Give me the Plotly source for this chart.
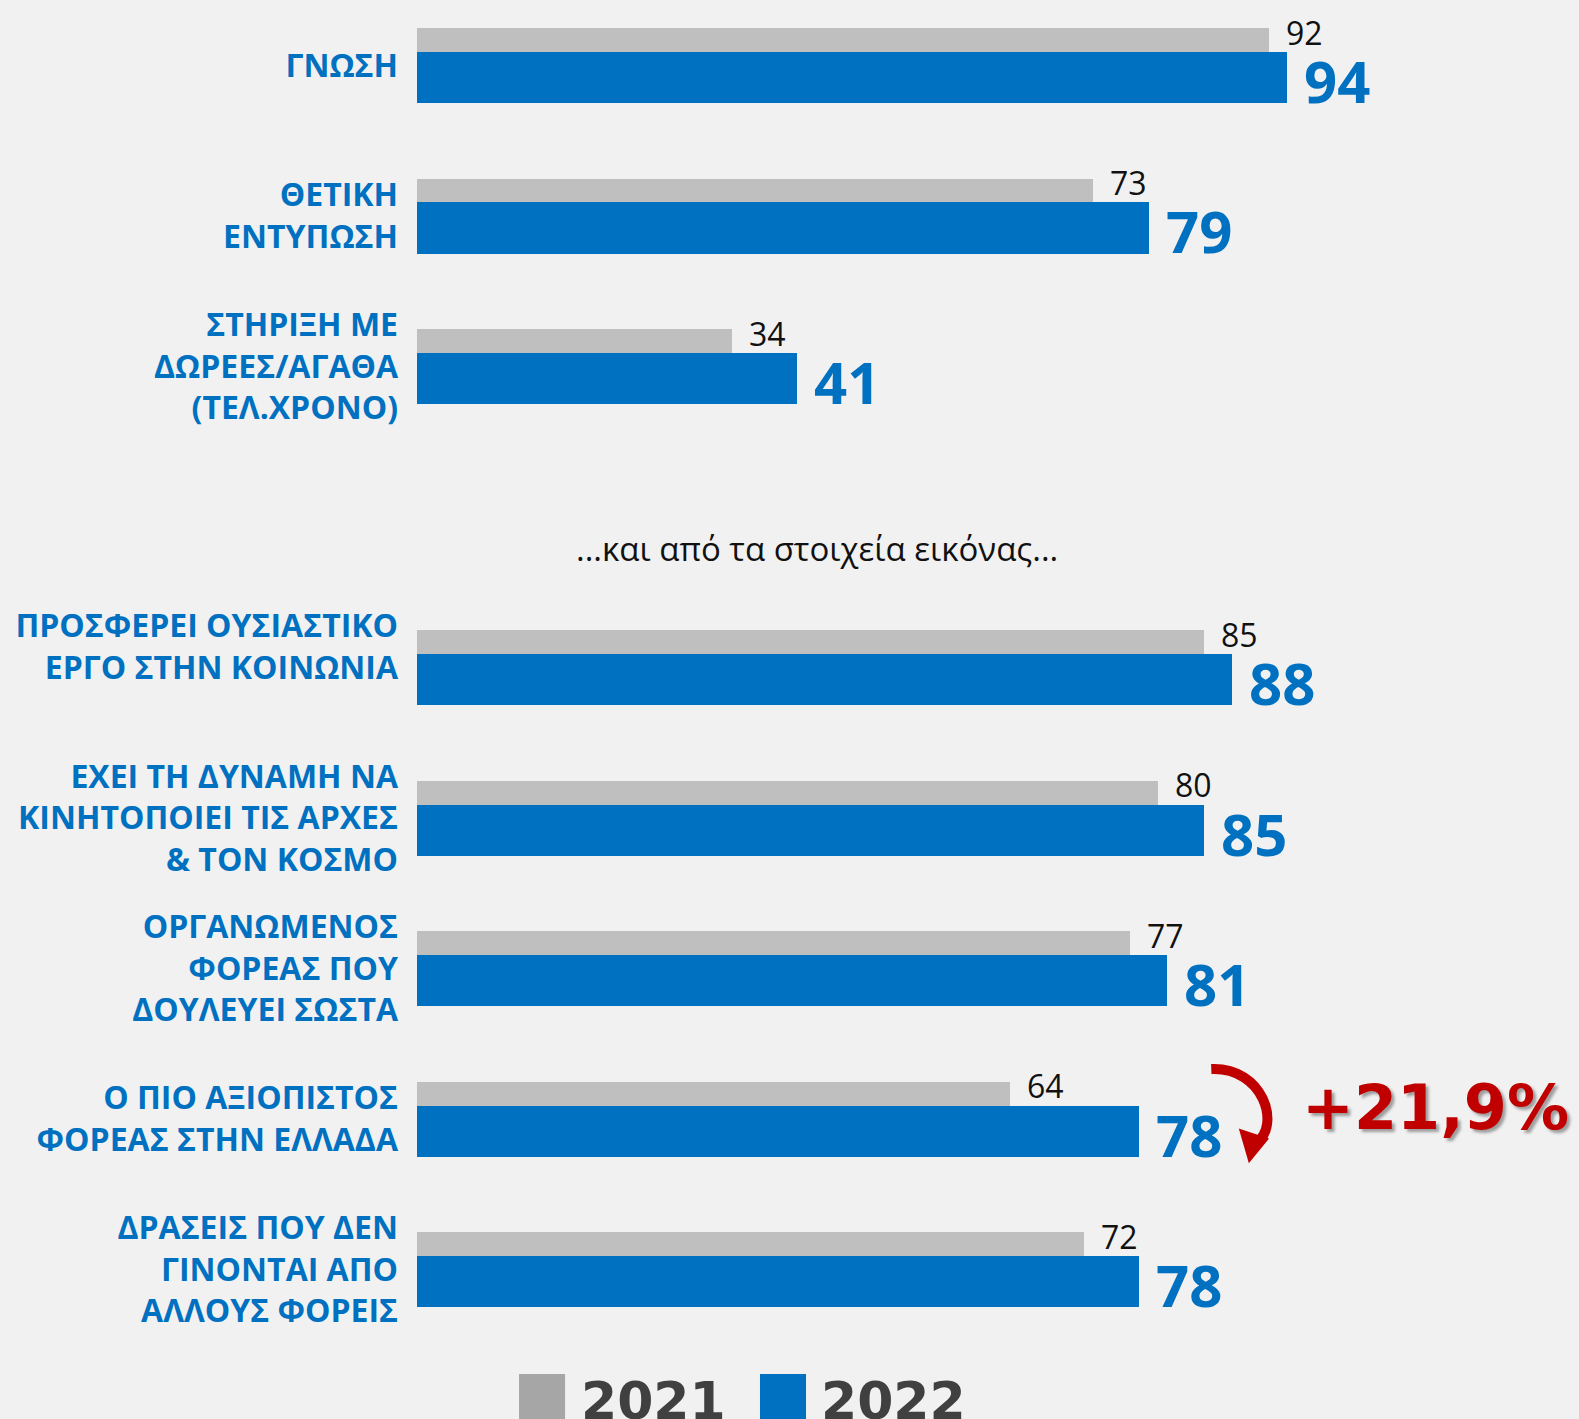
import plotly.graph_objects as go

# category labels (top to bottom) and their slot on the y axis (slot 3 is the gap)
categories = [
    "ΓΝΩΣΗ",
    "ΘΕΤΙΚΗ<br>ΕΝΤΥΠΩΣΗ",
    "ΣΤΗΡΙΞΗ ΜΕ<br>ΔΩΡΕΕΣ/ΑΓΑΘΑ<br>(ΤΕΛ.ΧΡΟΝΟ)",
    "ΠΡΟΣΦΕΡΕΙ ΟΥΣΙΑΣΤΙΚΟ<br>ΕΡΓΟ ΣΤΗΝ ΚΟΙΝΩΝΙΑ<br> ",
    "ΕΧΕΙ ΤΗ ΔΥΝΑΜΗ ΝΑ<br>ΚΙΝΗΤΟΠΟΙΕΙ ΤΙΣ ΑΡΧΕΣ<br>&amp; ΤΟΝ ΚΟΣΜΟ",
    "ΟΡΓΑΝΩΜΕΝΟΣ<br>ΦΟΡΕΑΣ ΠΟΥ<br>ΔΟΥΛΕΥΕΙ ΣΩΣΤΑ",
    "Ο ΠΙΟ ΑΞΙΟΠΙΣΤΟΣ<br>ΦΟΡΕΑΣ ΣΤΗΝ ΕΛΛΑΔΑ",
    "ΔΡΑΣΕΙΣ ΠΟΥ ΔΕΝ<br>ΓΙΝΟΝΤΑΙ ΑΠΟ<br>ΑΛΛΟΥΣ ΦΟΡΕΙΣ",
]
slots = [0, 1, 2, 4, 5, 6, 7, 8]
values_2021 = [92, 73, 34, 85, 80, 77, 64, 72]
values_2022 = [94, 79, 41, 88, 85, 81, 78, 78]

separator_text = "...και από τα στοιχεία εικόνας..."
change_text = "+21,9%"
years = ["2021", "2022"]

GREY = "#bfbfbf"
BLUE = "#0070c0"
BG = "#f1f1f1"
RED = "#c00000"

# bar geometry inside each slot (in slot units)
GREY_OFF, GREY_W = -0.249, 0.1595
BLUE_OFF, BLUE_W = -0.0897, 0.339

fig = go.Figure()
fig.add_trace(go.Bar(
    y=slots, x=values_2021, orientation="h", name=years[0],
    offset=GREY_OFF, width=GREY_W, marker=dict(color=GREY, line_width=0),
    hovertemplate="%{x}<extra>2021</extra>",
))
fig.add_trace(go.Bar(
    y=slots, x=values_2022, orientation="h", name=years[1],
    offset=BLUE_OFF, width=BLUE_W, marker=dict(color=BLUE, line_width=0),
    hovertemplate="%{x}<extra>2022</extra>",
))

annotations = []
for s, v in zip(slots, values_2021):
    annotations.append(dict(
        x=v, y=s + GREY_OFF + GREY_W / 2, text=str(v), showarrow=False,
        xanchor="left", yanchor="middle", xshift=15, yshift=8,
        font=dict(family="Open Sans", size=32, color="#111111"),
    ))
for s, v in zip(slots, values_2022):
    annotations.append(dict(
        x=v, y=s + BLUE_OFF + BLUE_W / 2, text=str(v), showarrow=False,
        xanchor="left", yanchor="middle", xshift=15, yshift=-3,
        font=dict(family="Open Sans", size=58, color=BLUE, weight=700),
    ))

# separator between the two blocks
annotations.append(dict(
    x=43.2, y=3.21, text=separator_text, showarrow=False,
    xanchor="center", yanchor="middle",
    font=dict(family="Open Sans", size=33, color="#111111"),
))

# change badge
annotations.append(dict(
    x=95.4, y=6.92, text=change_text, showarrow=False,
    xanchor="left", yanchor="middle",
    font=dict(family="DejaVu Sans", size=62, color=RED, weight=700,
              shadow="3px 3px 3px rgba(0,0,0,0.35)"),
))

# legend drawn by hand (big squares)
legend_items = [(years[0], "#a6a6a6", 0.1102, 0.175), (years[1], BLUE, 0.3704, 0.434)]
shapes = []
for label, color, sx, tx in legend_items:
    shapes.append(dict(type="rect", xref="paper", yref="paper",
                       x0=sx, x1=sx + 0.0497, y0=-0.0605, y1=-0.0254,
                       fillcolor=color, line_width=0))
    annotations.append(dict(
        xref="paper", yref="paper", x=tx, y=-0.0455, text=f"<b>{label}</b>",
        showarrow=False, xanchor="left", yanchor="middle",
        font=dict(family="DejaVu Sans", size=52, color="#404040"),
    ))


# curved red arrow next to the 78 bar (pixel offsets -> axis units)
def px(dx):
    return dx / 9.26


def py(dy):
    return dy / 150.5


ax, ay = 78, 7  # anchor: end of 2022 bar, slot 7 centre


def pt(dx, dy):
    return f"{ax + px(dx):.3f},{ay + py(dy):.3f}"


arc = f"M {pt(72, -50)} C {pt(124, -52)} {pt(142, 6)} {pt(117, 24)}"
shapes.append(dict(type="path", xref="x", yref="y", path=arc,
                   line=dict(color=RED, width=10)))
head = f"M {pt(128, 20)} L {pt(110, 42)} L {pt(101, 11)} Z"
shapes.append(dict(type="path", xref="x", yref="y", path=head,
                   fillcolor=RED, line=dict(color=RED, width=2)))

fig.update_layout(
    width=1579, height=1419,
    paper_bgcolor=BG, plot_bgcolor=BG,
    barmode="overlay", bargap=0,
    showlegend=False,
    margin=dict(l=417, r=236, t=0, b=79, pad=0),
    xaxis=dict(range=[0, 100], visible=False, fixedrange=True),
    yaxis=dict(
        range=[8.468, -0.435], tickmode="array", tickvals=slots, ticktext=categories,
        showgrid=False, zeroline=False, showline=False, ticks="",
        ticklabelstandoff=18, fixedrange=True,
        tickfont=dict(family="Open Sans", size=32, color=BLUE, weight=700),
    ),
    annotations=annotations,
    shapes=shapes,
)

fig.write_html(
    "out.html",
    config={"displayModeBar": False},
    post_script="document.body.style.margin='0';document.body.style.background='%s';" % BG,
)
